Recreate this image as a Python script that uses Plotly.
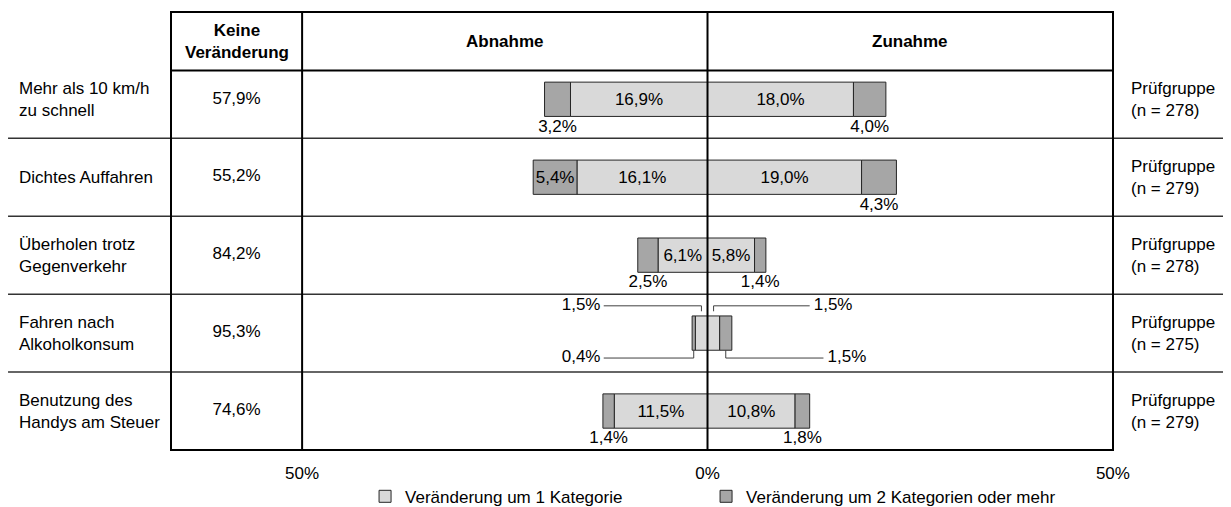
import plotly.graph_objects as go


verhalten = [
    "Mehr als 10 km/h<br>zu schnell",
    "Dichtes Auffahren",
    "Überholen trotz<br>Gegenverkehr",
    "Fahren nach<br>Alkoholkonsum",
    "Benutzung des<br>Handys am Steuer",
]
keine_veraenderung = [57.9, 55.2, 84.2, 95.3, 74.6]
abnahme_1 = [16.9, 16.1, 6.1, 1.5, 11.5]
abnahme_2 = [3.2, 5.4, 2.5, 0.4, 1.4]
zunahme_1 = [18.0, 19.0, 5.8, 1.5, 10.8]
zunahme_2 = [4.0, 4.3, 1.4, 1.5, 1.8]
n_gruppe = [278, 279, 278, 275, 279]

tick_vals = [-50, 0, 50]
tick_text = ["50%", "0%", "50%"]

HELL = "#d9d9d9"
DUNKEL = "#a6a6a6"
RAND = "#262626"
FONT = "Liberation Sans, Arial, sans-serif"
X_MIN, X_MAX = -66.17, 50.01
KEINE_X = (X_MIN - 50) / 2
HEADER_Y = -0.37
Y_TOP = -1.12
BAR_W = 0.44


def fmt(v):
    return f"{v:.1f}".replace(".", ",") + "%"


rows = list(range(len(verhalten)))
leader = [a < 3 for a in abnahme_1]

fig = go.Figure()


def seg(vals, sign, color, name, show, legend):
    fig.add_trace(go.Bar(
        y=rows, x=[sign * v for v in vals], orientation="h", width=BAR_W,
        marker=dict(color=color, line=dict(color=RAND, width=1)),
        text=[fmt(v) if v >= 5 else "" for v in vals],
        textposition="inside", insidetextanchor="middle", constraintext="none",
        textfont=dict(size=17, color="black", family=FONT),
        name=name, legendgroup=name, showlegend=show, legend=legend, hoverinfo="skip",
    ))


seg(abnahme_1, -1, HELL, "Veränderung um 1 Kategorie", True, "legend")
seg(abnahme_2, -1, DUNKEL, "Veränderung um 2 Kategorien oder mehr", True, "legend2")
seg(zunahme_1, 1, HELL, "Veränderung um 1 Kategorie", False, "legend")
seg(zunahme_2, 1, DUNKEL, "Veränderung um 2 Kategorien oder mehr", False, "legend2")

# labels under the small dark segments
lx, ly, lt = [], [], []
for i in rows:
    if leader[i]:
        continue
    if abnahme_2[i] < 5:
        lx.append(-(abnahme_1[i] + abnahme_2[i] / 2)); ly.append(i + 0.36); lt.append(fmt(abnahme_2[i]))
    if zunahme_2[i] < 5:
        lx.append(zunahme_1[i] + zunahme_2[i] / 2); ly.append(i + 0.36); lt.append(fmt(zunahme_2[i]))
fig.add_trace(go.Scatter(x=lx, y=ly, text=lt, mode="text", showlegend=False, hoverinfo="skip",
                         textfont=dict(size=17, color="black", family=FONT)))

# leader lines for the row with tiny segments
for i in rows:
    if not leader[i]:
        continue
    a1, a2, z1, z2 = abnahme_1[i], abnahme_2[i], zunahme_1[i], zunahme_2[i]
    top, bot, edge = i - 0.35, i + 0.32, i + BAR_W / 2
    xs = [-12.8, -a1 / 2, -a1 / 2, None,
          z1 / 2, z1 / 2, 12.6, None,
          -12.8, -(a1 + a2 / 2), -(a1 + a2 / 2), None,
          z1 + z2 / 2, z1 + z2 / 2, 14.3]
    ys = [top, top, i - 0.28, None,
          i - 0.28, top, top, None,
          bot, bot, edge, None,
          edge, bot, bot]
    fig.add_trace(go.Scatter(x=xs, y=ys, mode="lines", line=dict(color="#404040", width=1),
                             showlegend=False, hoverinfo="skip"))
    fig.add_trace(go.Scatter(x=[-13.2, -13.2], y=[top, bot], text=[fmt(a1), fmt(a2)], mode="text",
                             textposition="middle left", showlegend=False, hoverinfo="skip",
                             textfont=dict(size=17, color="black", family=FONT)))
    fig.add_trace(go.Scatter(x=[13.1, 14.8], y=[top, bot], text=[fmt(z1), fmt(z2)], mode="text",
                             textposition="middle right", showlegend=False, hoverinfo="skip",
                             textfont=dict(size=17, color="black", family=FONT)))

# Keine Veränderung column
fig.add_trace(go.Scatter(x=[KEINE_X] * len(rows), y=rows, text=[fmt(v) for v in keine_veraenderung],
                         mode="text", showlegend=False, hoverinfo="skip",
                         textfont=dict(size=17, color="black", family=FONT)))

shapes = []
for i in rows[:-1]:
    shapes.append(dict(type="line", xref="paper", yref="y", x0=-0.173, x1=1.125, y0=i + 0.5, y1=i + 0.5,
                       line=dict(color="#333333", width=1.5)))
shapes += [
    dict(type="rect", xref="paper", yref="paper", x0=0, x1=1, y0=0, y1=1, line=dict(color="black", width=2)),
    dict(type="line", xref="paper", yref="y", x0=0, x1=1, y0=HEADER_Y, y1=HEADER_Y, line=dict(color="black", width=2)),
    dict(type="line", xref="x", yref="paper", x0=-50, x1=-50, y0=0, y1=1, line=dict(color="black", width=2)),
    dict(type="line", xref="x", yref="paper", x0=0, x1=0, y0=0, y1=1, line=dict(color="black", width=2)),
]

header_mid = (Y_TOP + HEADER_Y) / 2
annotations = [
    dict(x=KEINE_X, y=header_mid, text="<b>Keine<br>Veränderung</b>", showarrow=False),
    dict(x=-25, y=header_mid, text="<b>Abnahme</b>", showarrow=False),
    dict(x=25, y=header_mid, text="<b>Zunahme</b>", showarrow=False),
]
for i in rows:
    annotations.append(dict(xref="paper", x=-0.1635, y=i, text=verhalten[i], showarrow=False,
                            xanchor="left", align="left"))
    annotations.append(dict(xref="paper", x=1.017, y=i, text=f"Prüfgruppe<br>(n = {n_gruppe[i]})",
                            showarrow=False, xanchor="left", align="left"))

legend_style = dict(orientation="h", y=0.036, xref="paper", yref="container",
                    xanchor="left", yanchor="middle", font=dict(size=17), itemwidth=30,
                    bgcolor="rgba(0,0,0,0)")

fig.update_layout(
    width=1231, height=507,
    margin=dict(l=163, r=126, t=4, b=65),
    barmode="relative",
    plot_bgcolor="white", paper_bgcolor="white",
    font=dict(family=FONT, size=17, color="black"),
    shapes=shapes, annotations=annotations,
    xaxis=dict(range=[X_MIN, X_MAX], tickvals=tick_vals, ticktext=tick_text, showgrid=False,
               zeroline=False, showline=False, ticks="outside", ticklen=8, tickcolor="rgba(0,0,0,0)",
               tickfont=dict(size=17), automargin=False),
    yaxis=dict(range=[4.5, Y_TOP], visible=False),
    legend=dict(legend_style, x=0.206),
    legend2=dict(legend_style, x=0.568),
    showlegend=True,
)

fig.write_html("out.html")
